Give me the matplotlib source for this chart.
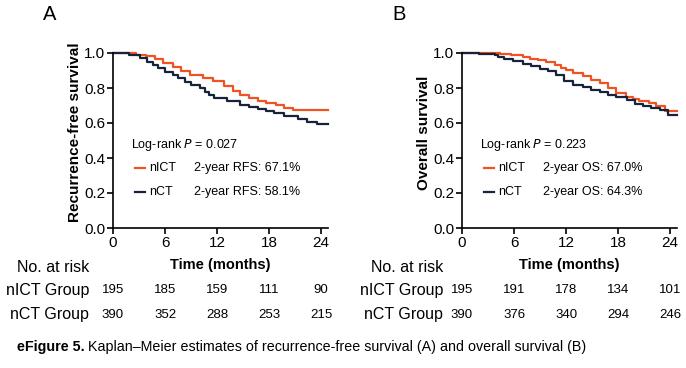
import matplotlib
matplotlib.use("Agg")
import matplotlib.pyplot as plt
from matplotlib.transforms import blended_transform_factory

plt.rcParams['font.family'] = ['Liberation Sans', 'DejaVu Sans']

# ---- data ----
# panel A: recurrence-free survival
a_nict_t = [0, 2.7, 3.8, 4.8, 5.8, 6.9, 7.9, 8.9, 10.4, 11.5, 12.8, 13.8, 14.7, 15.7, 16.7, 17.7, 18.8, 19.7, 20.8, 24.8]
a_nict_s = [1.0, 0.99, 0.983, 0.964, 0.945, 0.922, 0.897, 0.874, 0.855, 0.838, 0.81, 0.781, 0.762, 0.743, 0.728, 0.714, 0.701, 0.686, 0.672, 0.672]
a_nct_t = [0, 1.8, 3.1, 3.9, 4.6, 5.2, 6.0, 6.9, 7.5, 8.3, 9.0, 10.0, 10.6, 11.1, 11.7, 13.2, 14.7, 15.7, 16.7, 17.7, 18.6, 19.7, 21.3, 22.4, 23.5, 24.8]
a_nct_s = [1.0, 0.989, 0.97, 0.95, 0.931, 0.912, 0.893, 0.874, 0.855, 0.836, 0.817, 0.798, 0.779, 0.76, 0.741, 0.724, 0.705, 0.69, 0.68, 0.667, 0.655, 0.64, 0.625, 0.608, 0.593, 0.593]

# panel B: overall survival
b_nict_t = [0, 4.4, 5.7, 7.0, 7.8, 8.8, 9.7, 10.7, 11.4, 12.0, 12.8, 14.0, 14.9, 15.9, 16.8, 17.8, 18.9, 19.7, 20.4, 21.6, 22.4, 23.4, 24.8]
b_nict_s = [1.0, 0.994, 0.987, 0.977, 0.967, 0.958, 0.947, 0.93, 0.914, 0.905, 0.886, 0.867, 0.848, 0.829, 0.80, 0.771, 0.746, 0.736, 0.727, 0.716, 0.695, 0.67, 0.67]
b_nct_t = [0, 2.0, 3.8, 4.2, 4.9, 5.9, 7.0, 8.0, 9.0, 9.9, 10.9, 11.8, 12.8, 14.0, 14.9, 15.9, 16.8, 17.8, 19.0, 19.9, 20.9, 21.8, 22.8, 23.8, 24.8]
b_nct_s = [1.0, 0.994, 0.987, 0.98, 0.966, 0.952, 0.939, 0.924, 0.91, 0.895, 0.876, 0.842, 0.819, 0.804, 0.79, 0.777, 0.762, 0.747, 0.73, 0.709, 0.695, 0.686, 0.674, 0.646, 0.646]

risk_times = [0, 6, 12, 18, 24]
a_risk_nict = [195, 185, 159, 111, 90]
a_risk_nct = [390, 352, 288, 253, 215]
b_risk_nict = [195, 191, 178, 134, 101]
b_risk_nct = [390, 376, 340, 294, 246]

groups = ["nICT", "nCT"]
a_labels = ["2-year RFS: 67.1%", "2-year RFS: 58.1%"]
b_labels = ["2-year OS: 67.0%", "2-year OS: 64.3%"]

ORANGE = "#F05323"
NAVY = "#17223B"

fig = plt.figure(figsize=(6.86, 3.68), dpi=100)
W, H = 686.0, 368.0


def panel(left_px, letter, ylabel, curves, pval, labels, risk, rowlab_px):
    ax = fig.add_axes([left_px / W, 1 - 228 / H, 215 / W, 175 / H])
    for (t, s), c in zip(curves, [ORANGE, NAVY]):
        ax.step(t, s, where='post', color=c, lw=1.6, clip_on=False)
    ax.set_xlim(0, 24.8)
    ax.set_ylim(0, 1.0)
    ax.set_xticks(risk_times)
    ax.set_yticks([0, 0.2, 0.4, 0.6, 0.8, 1.0])
    ax.set_yticklabels(["0.0", "0.2", "0.4", "0.6", "0.8", "1.0"])
    for sp in ['top', 'right']:
        ax.spines[sp].set_visible(False)
    for sp in ['left', 'bottom']:
        ax.spines[sp].set_linewidth(1.2)
    ax.tick_params(direction='out', length=4, width=1.2, labelsize=11, pad=1.5)
    ax.set_ylabel(ylabel, fontsize=11, fontweight='bold')
    ax.yaxis.set_label_coords(-0.145, 0.545)
    ax.set_xlabel("Time (months)", fontsize=10.5, fontweight='bold', labelpad=6)

    ax.text(0.085, 0.474, "Log-rank $\\it{P}$ = " + pval, transform=ax.transAxes,
            fontsize=9, va='center')
    for i, (g, lab, c) in enumerate(zip(groups, labels, [ORANGE, NAVY])):
        yy = 0.343 - i * 0.137
        ax.plot([0.103, 0.15], [yy, yy], color=c, lw=1.6, transform=ax.transAxes)
        ax.text(0.17, yy, g, transform=ax.transAxes, fontsize=9, va='center')
        ax.text(0.375, yy, lab, transform=ax.transAxes, fontsize=9, va='center')

    fig.text((left_px - 63) / W, 1 - 15 / H, letter, fontsize=14.5, ha='center', va='center')

    tr = blended_transform_factory(ax.transData, fig.transFigure)
    fig.text(rowlab_px / W, 1 - 267 / H, "No. at risk", fontsize=11.5, ha='right', va='center')
    fig.text(rowlab_px / W, 1 - 290 / H, "nICT Group", fontsize=11.5, ha='right', va='center')
    fig.text(rowlab_px / W, 1 - 315 / H, "nCT Group", fontsize=11.5, ha='right', va='center')
    for row, ypx in zip(risk, [290, 315]):
        for t, n in zip(risk_times, row):
            ax.text(t, 1 - ypx / H, str(n), transform=tr, fontsize=9.5,
                    ha='center', va='center')
    return ax


panel(113, "A", "Recurrence-free survival",
      [(a_nict_t, a_nict_s), (a_nct_t, a_nct_s)], "0.027", a_labels,
      [a_risk_nict, a_risk_nct], 89)
panel(462, "B", "Overall survival",
      [(b_nict_t, b_nict_s), (b_nct_t, b_nct_s)], "0.223", b_labels,
      [b_risk_nict, b_risk_nct], 443)

# caption: bold lead-in followed by plain text
cap_y = 1 - 347 / H
t1 = fig.text(17 / W, cap_y, "eFigure 5.", fontsize=10.3, fontweight='bold', va='center')
r = fig.canvas.get_renderer()
bb = t1.get_window_extent(renderer=r)
fig.text(bb.x1 / W + 3 / W, cap_y,
         "Kaplan\u2013Meier estimates of recurrence-free survival (A) and overall survival (B)",
         fontsize=10.3, va='center')

fig.savefig("out.png", dpi=100)
